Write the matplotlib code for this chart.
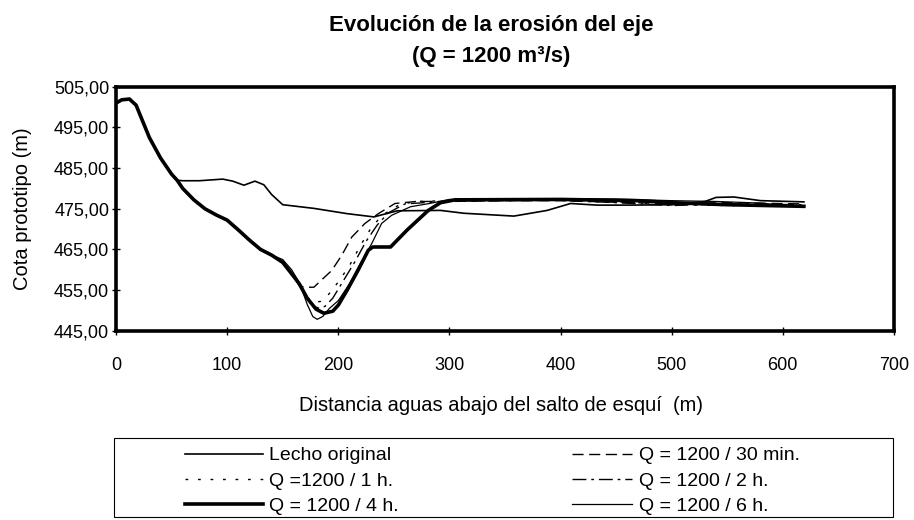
import matplotlib
matplotlib.use('Agg')
import matplotlib.pyplot as plt
from matplotlib.ticker import FuncFormatter
from matplotlib.patches import Rectangle

plt.rcParams['font.family'] = ['Liberation Sans', 'DejaVu Sans']

# shared upstream part of the profile (before the scour hole)
up_x = [0, 5, 12, 18, 24, 30, 40, 50, 55]
up_y = [501.0, 501.8, 502.0, 500.5, 496.5, 492.5, 487.5, 483.5, 482.0]

slope_x = [60, 70, 80, 90, 100, 110, 120, 130, 140, 150, 160]
slope_y = [480.0, 477.2, 475.0, 473.5, 472.2, 469.8, 467.3, 465.0, 463.6, 461.8, 458.3]

lecho_x = up_x + [60, 75, 96, 105, 115, 125, 133, 140, 150, 178, 208, 232, 253,
                  292, 313, 358, 388, 409, 433, 463, 500, 530, 540, 556, 580, 619]
lecho_y = up_y + [481.9, 481.9, 482.3, 481.8, 480.8, 481.8, 480.9, 478.5, 476.0,
                  475.1, 473.8, 473.0, 474.5, 474.6, 473.9, 473.2, 474.6, 476.3,
                  475.9, 475.9, 476.0, 476.8, 477.8, 477.9, 477.0, 476.7]

q30_x = up_x + slope_x + [165, 170, 178, 185, 194, 203, 212, 224, 236, 251, 270,
                          300, 350, 400, 450, 500, 550, 619]
q30_y = up_y + slope_y + [456.0, 455.7, 455.7, 457.5, 459.8, 463.5, 468.0, 471.4,
                          473.8, 476.3, 476.8, 476.8, 477.0, 477.0, 476.6, 476.3,
                          476.5, 476.2]

q1h_x = up_x + slope_x + [166, 172, 178, 184, 190, 200, 210, 220, 230, 240, 255,
                          270, 300, 400, 450, 500, 550, 619]
q1h_y = up_y + slope_y + [455.5, 453.2, 452.0, 452.2, 453.5, 457.0, 461.0, 466.0,
                          470.5, 473.5, 476.0, 476.8, 477.0, 477.2, 476.8, 476.0,
                          475.8, 475.6]

q2h_x = up_x + slope_x + [166, 172, 178, 183, 188, 195, 205, 215, 225, 235, 245,
                          260, 300, 400, 450, 500, 550, 619]
q2h_y = up_y + slope_y + [455.8, 453.0, 451.0, 450.5, 451.0, 453.0, 457.5, 462.0,
                          467.0, 471.0, 474.0, 476.2, 476.9, 477.1, 476.5, 475.8,
                          476.2, 476.0]

q4h_x = up_x + slope_x + [165, 172, 180, 187, 195, 200, 208, 218, 227, 231, 247,
                          262, 281, 292, 305, 400, 470, 500, 550, 619]
q4h_y = up_y + slope_y + [456.5, 453.0, 450.3, 449.3, 449.8, 451.3, 455.0, 460.0,
                          464.8, 465.6, 465.6, 469.8, 474.6, 476.5, 477.2, 477.3,
                          477.0, 476.5, 476.0, 475.6]

q6h_x = up_x + slope_x[:-2] + [150, 158, 165, 172, 177, 181, 186, 192, 200, 210,
                               218, 230, 239, 248, 265, 282, 300, 400, 450, 500,
                               540, 580, 619]
q6h_y = up_y + slope_y[:-2] + [462.5, 460.0, 456.8, 451.5, 448.5, 447.8, 448.5,
                               450.5, 452.4, 456.5, 460.6, 466.4, 471.4, 473.4,
                               475.5, 476.3, 477.3, 477.5, 477.4, 477.0, 476.8,
                               476.4, 475.4]

x_ticks = [0, 100, 200, 300, 400, 500, 600, 700]
y_ticks = [445, 455, 465, 475, 485, 495, 505]

fig = plt.figure(figsize=(9.14, 5.2), dpi=100)
ax = fig.add_axes([0.127, 0.364, 0.851, 0.469])

l_lecho, = ax.plot(lecho_x, lecho_y, color='black', lw=1.2)
l_30, = ax.plot(q30_x, q30_y, color='black', lw=1.0, dashes=(8, 4))
l_1h, = ax.plot(q1h_x, q1h_y, color='black', lw=1.0, dashes=(2, 7))
l_2h, = ax.plot(q2h_x, q2h_y, color='black', lw=1.0, dashes=(10, 3.5, 2, 3.5))
l_4h, = ax.plot(q4h_x, q4h_y, color='black', lw=2.6)
l_6h, = ax.plot(q6h_x, q6h_y, color='black', lw=0.9)

ax.set_xlim(0, 700)
ax.set_ylim(445, 505)
ax.set_xticks(x_ticks)
ax.set_yticks(y_ticks)
ax.yaxis.set_major_formatter(FuncFormatter(lambda v, p: f'{v:.2f}'.replace('.', ',')))
ax.tick_params(direction='inout', length=6, width=1, labelsize=13)
ax.tick_params(axis='x', pad=16)
ax.tick_params(axis='y', pad=2)
for s in ax.spines.values():
    s.set_linewidth(2.6)

ax.set_ylabel('Cota prototipo (m)', fontsize=14.5, labelpad=16)
fig.text(0.548, 0.221, 'Distancia aguas abajo del salto de esquí  (m)',
         ha='center', va='center', fontsize=14.5)
fig.text(0.537, 0.950, 'Evolución de la erosión del eje', ha='center',
         va='center', fontsize=16, fontweight='bold')
fig.text(0.537, 0.891, '(Q = 1200 m³/s)', ha='center', va='center',
         fontsize=16, fontweight='bold')

leg_kw = dict(loc='upper left', bbox_transform=fig.transFigure, frameon=False,
              fontsize=14, handletextpad=0.35, labelspacing=0.4, borderpad=0.0)
leg1 = fig.legend([l_lecho, l_1h, l_4h],
                  ['Lecho original', 'Q =1200 / 1 h.', 'Q = 1200 / 4 h.'],
                  bbox_to_anchor=(0.1915, 0.1595), handlelength=4.0, **leg_kw)
leg2 = fig.legend([l_30, l_2h, l_6h],
                  ['Q = 1200 / 30 min.', 'Q = 1200 / 2 h.', 'Q = 1200 / 6 h.'],
                  bbox_to_anchor=(0.615, 0.1595), handlelength=3.1, **leg_kw)
fig.patches.append(Rectangle((0.1247, 0.0058), 0.852, 0.152, transform=fig.transFigure,
                             fill=False, edgecolor='black', lw=0.8))

fig.savefig('out.png', dpi=100)
